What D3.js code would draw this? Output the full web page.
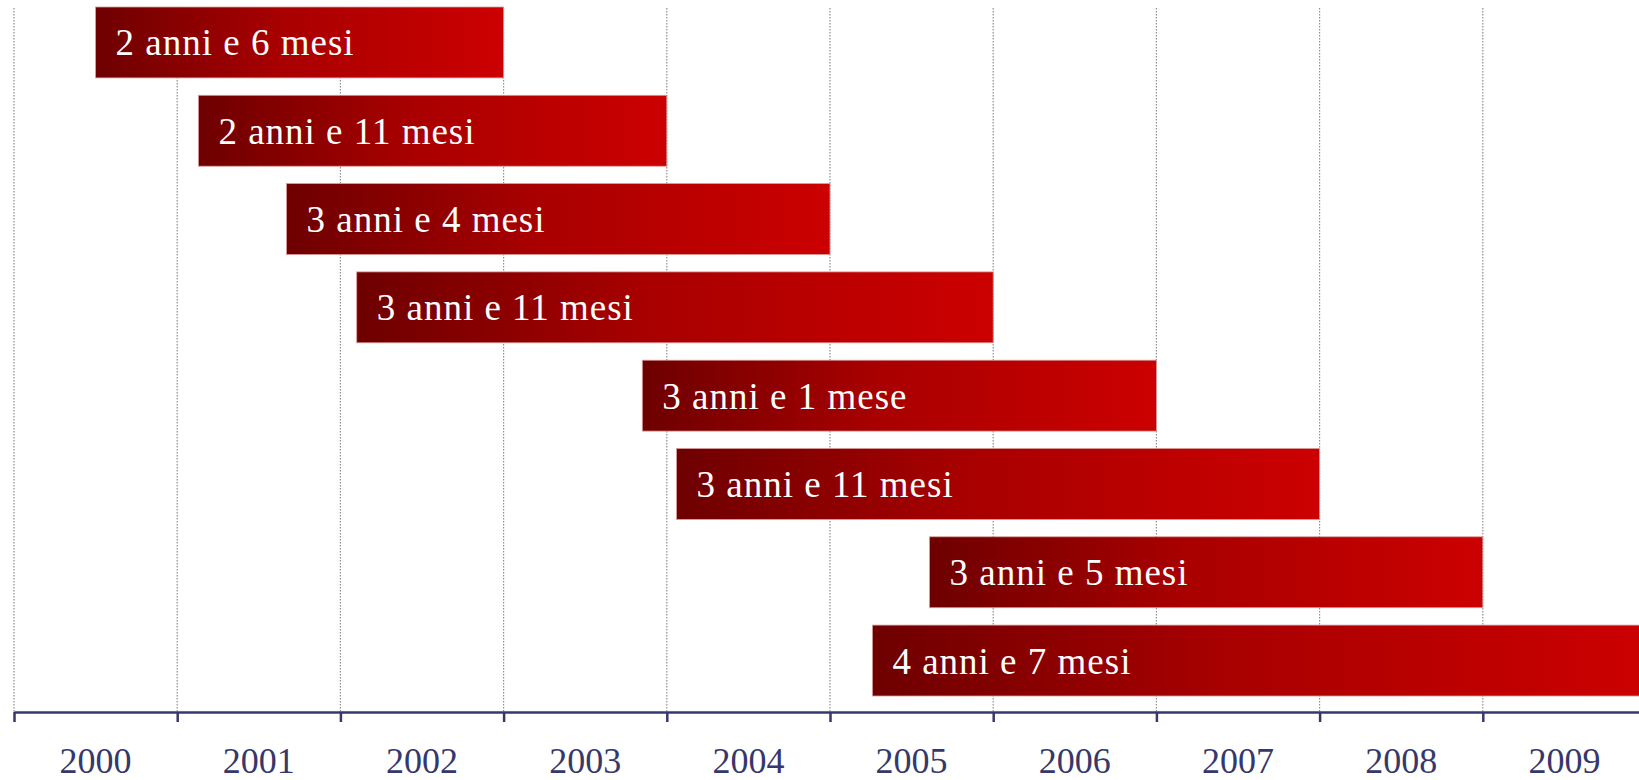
<html>
<head>
<script src="https://d3js.org/d3.v7.min.js"></script>
<style>
  body { margin: 0; background: white; }
  svg { display: block; }
  .label { fill: white; font-family: "Liberation Serif", "DejaVu Serif", serif; font-size: 37px; letter-spacing: 1px; }
  .years text { fill: #36386b; font-family: "Liberation Serif", "DejaVu Serif", serif; font-size: 36px; }
  .grid { stroke: #8f8f8f; stroke-width: 1.2; stroke-dasharray: 1.5 1.5; }
</style>
</head>
<body>
<svg id="chart" width="1639" height="780"></svg>
<script>
// durations shown on each bar
const labels = ["2 anni e 6 mesi", "2 anni e 11 mesi", "3 anni e 4 mesi", "3 anni e 11 mesi",
                "3 anni e 1 mese", "3 anni e 11 mesi", "3 anni e 5 mesi", "4 anni e 7 mesi"];
// start / end, as fractional years
const startYears = [2000.5, 2001.13, 2001.67, 2002.1, 2003.85, 2004.06, 2005.61, 2005.26];
const endYears   = [2003.0, 2004.0, 2005.0, 2006.0, 2007.0, 2008.0, 2009.0, 2010.0];
const years = [2000, 2001, 2002, 2003, 2004, 2005, 2006, 2007, 2008, 2009];

const svg = d3.select("#chart");
const axisY = 712;

const x = d3.scaleLinear().domain([2000, 2010]).range([14, 1646]);
const xBand = d3.scaleBand().domain(years).range([14, 1646]);
const y = d3.scaleBand().domain(d3.range(labels.length)).range([7, 696]).paddingInner(0.197).paddingOuter(0);

const defs = svg.append("defs");
const grad = defs.append("linearGradient").attr("id", "redgrad")
    .attr("x1", "0%").attr("x2", "100%").attr("y1", "0%").attr("y2", "0%");
grad.append("stop").attr("offset", "0%").attr("stop-color", "#6e0000");
grad.append("stop").attr("offset", "45%").attr("stop-color", "#a80000");
grad.append("stop").attr("offset", "100%").attr("stop-color", "#cc0000");

// dotted gridlines
svg.append("g").selectAll("line")
    .data(d3.range(2000, 2011))
    .join("line")
    .attr("class", "grid")
    .attr("x1", d => x(d)).attr("x2", d => x(d))
    .attr("y1", 8).attr("y2", axisY);

// bars
const bars = svg.append("g").selectAll("g")
    .data(labels.map((l, i) => ({label: l, start: startYears[i], end: endYears[i], i: i})))
    .join("g");

bars.append("rect")
    .attr("x", d => x(d.start))
    .attr("y", d => y(d.i))
    .attr("width", d => x(d.end) - x(d.start))
    .attr("height", y.bandwidth())
    .attr("fill", "url(#redgrad)")
    .attr("stroke", "#d99a9a")
    .attr("stroke-width", 0.8);

bars.append("text")
    .attr("class", "label")
    .attr("x", d => x(d.start) + 20)
    .attr("y", d => y(d.i) + y.bandwidth() / 2 + 13)
    .text(d => d.label);

// axis with ticks at year boundaries
const axis = svg.append("g")
    .attr("transform", `translate(0,${axisY})`)
    .call(d3.axisBottom(x).tickValues(d3.range(2000, 2011)).tickFormat("").tickSize(10).tickSizeOuter(0));
axis.selectAll("path, line").attr("stroke", "#36386b").attr("stroke-width", 2.5);

// year labels centred in each band
const yearAxis = svg.append("g")
    .attr("class", "years")
    .attr("transform", `translate(0,${axisY})`)
    .call(d3.axisBottom(xBand).tickSize(0).tickPadding(35));
yearAxis.select(".domain").remove();
yearAxis.selectAll("text").attr("font-size", null).attr("font-family", null);
</script>
</body>
</html>
